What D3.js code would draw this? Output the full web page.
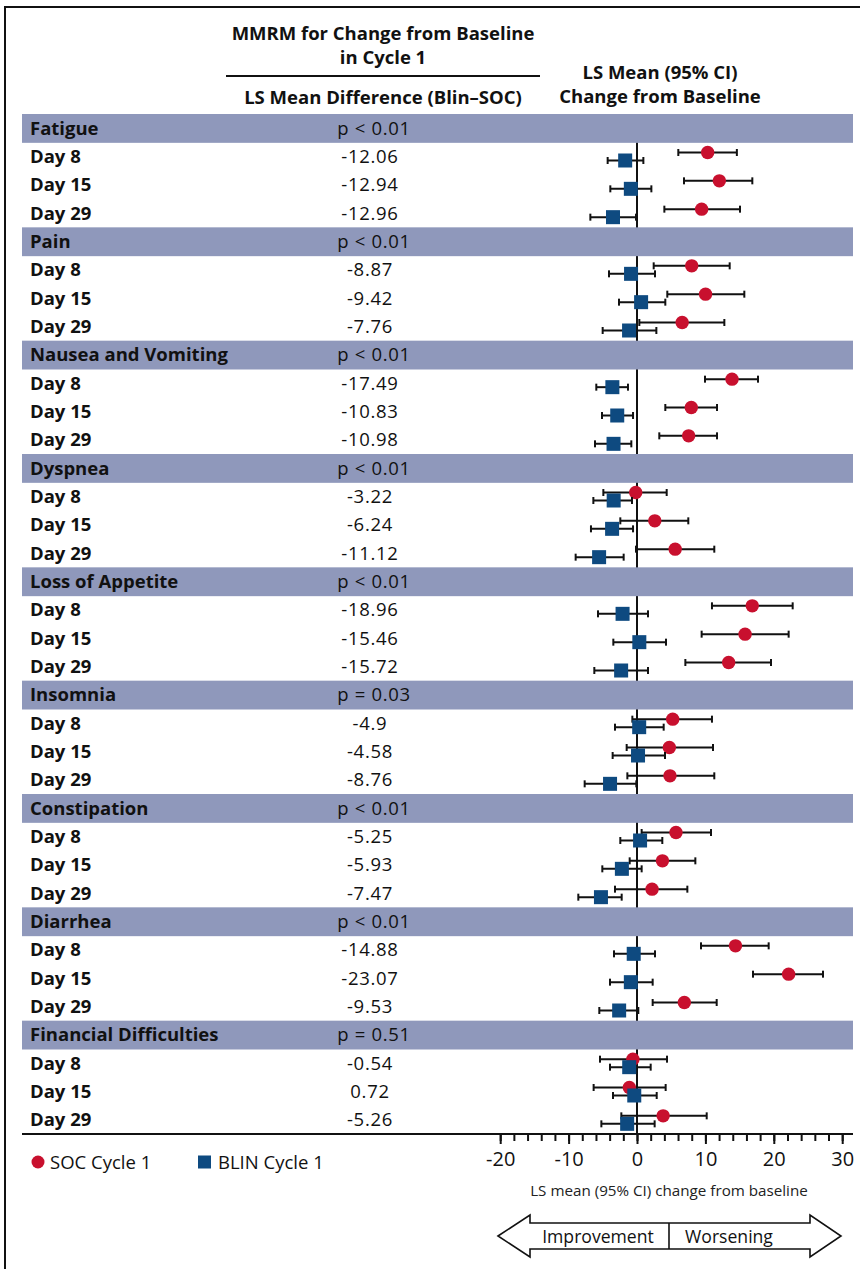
<!DOCTYPE html>
<html>
<head>
<meta charset="utf-8">
<script src="https://cdn.jsdelivr.net/npm/d3@7"></script>
<style>
  html, body { margin: 0; padding: 0; background: #fff; }
  svg { display: block; font-family: "Open Sans", "Lato", sans-serif; }
</style>
</head>
<body>
<svg id="chart" width="860" height="1269"></svg>
<script>
// Domains and labels
const domains = ["Fatigue", "Pain", "Nausea and Vomiting", "Dyspnea", "Loss of Appetite",
  "Insomnia", "Constipation", "Diarrhea", "Financial Difficulties"];
const pValues = ["p < 0.01", "p < 0.01", "p < 0.01", "p < 0.01", "p < 0.01",
  "p = 0.03", "p < 0.01", "p < 0.01", "p = 0.51"];
const visits = ["Day 8", "Day 15", "Day 29"];

// LS mean difference (Blin–SOC), per domain and visit
const diffLabels = [
  ["-12.06", "-12.94", "-12.96"],
  ["-8.87", "-9.42", "-7.76"],
  ["-17.49", "-10.83", "-10.98"],
  ["-3.22", "-6.24", "-11.12"],
  ["-18.96", "-15.46", "-15.72"],
  ["-4.9", "-4.58", "-8.76"],
  ["-5.25", "-5.93", "-7.47"],
  ["-14.88", "-23.07", "-9.53"],
  ["-0.54", "0.72", "-5.26"]
];

// SOC Cycle 1: LS mean change and 95% CI
const socMean = [
  [10.33, 12.04, 9.45], [8.0, 10.02, 6.6], [13.89, 7.94, 7.55],
  [-0.19, 2.6, 5.58], [16.85, 15.8, 13.4], [5.22, 4.73, 4.82],
  [5.7, 3.72, 2.2], [14.4, 22.17, 6.92], [-0.6, -1.12, 3.82]
];
const socLow = [
  [6.04, 6.87, 4.0], [2.44, 4.43, 0.34], [9.94, 4.14, 3.26],
  [-4.92, -2.44, -0.15], [10.96, 9.45, 7.07], [-0.68, -1.51, -1.41],
  [0.68, -1.07, -3.22], [9.36, 16.96, 2.29], [-5.41, -6.34, -2.29]
];
const socHigh = [
  [14.6, 16.86, 15.06], [13.55, 15.69, 12.77], [17.69, 11.7, 11.7],
  [4.34, 7.5, 11.3], [22.76, 22.17, 19.59], [10.96, 11.11, 11.3],
  [10.82, 8.53, 7.36], [19.25, 27.19, 11.65], [4.39, 4.19, 10.19]
];

// BLIN Cycle 1: LS mean change and 95% CI
const blinMean = [
  [-1.73, -0.9, -3.51], [-0.87, 0.6, -1.16], [-3.6, -2.89, -3.43],
  [-3.41, -3.64, -5.54], [-2.11, 0.34, -2.32], [0.32, 0.15, -3.94],
  [0.45, -2.21, -5.27], [-0.48, -0.9, -2.61], [-1.14, -0.4, -1.44]
];
const blinLow = [
  [-4.29, -3.9, -6.82], [-4.09, -2.63, -5.02], [-5.95, -5.12, -6.14],
  [-6.38, -6.73, -8.97], [-5.7, -3.46, -6.24], [-3.22, -3.56, -7.65],
  [-2.44, -5.07, -8.58], [-3.36, -3.95, -5.51], [-3.95, -3.51, -5.21]
];
const blinHigh = [
  [0.93, 2.1, -0.15], [2.63, 4.14, 2.83], [-1.32, -0.58, -0.83],
  [-0.73, -0.58, -1.95], [1.61, 4.24, 1.61], [3.9, 4.09, -0.1],
  [3.7, 0.68, -2.24], [2.63, 2.29, 0.19], [2.0, 2.88, 2.58]
];

const axisTicks = [-20, -10, 0, 10, 20, 30];
const seriesNames = ["SOC Cycle 1", "BLIN Cycle 1"];

const colors = { soc: "#c8102e", blin: "#0e4a80", band: "#8f98bb", ink: "#111" };

const svg = d3.select("#chart");

// Outer frame
svg.append("path")
  .attr("d", "M5,1269 V7 H860")
  .attr("fill", "none").attr("stroke", "#111").attr("stroke-width", 2);

// Row layout: each domain has a header row plus three visit rows
const rows = [];
domains.forEach((d, i) => {
  rows.push({ type: "head", g: i });
  visits.forEach((v, j) => rows.push({ type: "visit", g: i, j }));
});
const y = d3.scaleBand().domain(d3.range(rows.length)).range([114, 1134]).paddingInner(0);
const x = d3.scaleLinear().domain([-20, 30]).range([500.2, 842.2]);
const rowH = y.bandwidth();

// Zero reference line
svg.append("line")
  .attr("x1", x(0)).attr("x2", x(0))
  .attr("y1", y(0) + rowH).attr("y2", 1134)
  .attr("stroke", colors.ink).attr("stroke-width", 2);

// Domain header bands
svg.selectAll("rect.band").data(rows.map((r, k) => ({ ...r, k })).filter(r => r.type === "head"))
  .join("rect").attr("class", "band")
  .attr("x", 22).attr("width", 831)
  .attr("y", d => y(d.k)).attr("height", rowH + 0.5)
  .attr("fill", colors.band);

// Row texts
const textG = svg.append("g").attr("fill", "#111");
rows.forEach((r, k) => {
  const cy = y(k) + rowH / 2 + 6.5;
  const label = textG.append("text").attr("x", 30).attr("y", cy).attr("font-weight", 700)
    .style("font-size", "18.5px");
  const value = textG.append("text").attr("y", cy).attr("text-anchor", "middle")
    .style("font-size", "18.5px").style("letter-spacing", "0.7px");
  if (r.type === "head") {
    label.text(domains[r.g]);
    value.attr("x", 374).text(pValues[r.g]);
  } else {
    label.text(visits[r.j]);
    value.attr("x", 370).text(diffLabels[r.g][r.j]);
  }
});

// Point estimates with 95% CI
const visitRows = rows.map((r, k) => ({ ...r, k })).filter(r => r.type === "visit");
const cap = 3.5;
function errorBars(g, lo, hi, dy) {
  const sel = g.selectAll("g").data(visitRows).join("g")
    .attr("transform", d => `translate(0,${y(d.k) + rowH / 2 + dy})`)
    .attr("stroke", colors.ink).attr("stroke-width", 2);
  sel.append("line").attr("x1", d => x(lo[d.g][d.j])).attr("x2", d => x(hi[d.g][d.j]));
  sel.append("line").attr("x1", d => x(lo[d.g][d.j])).attr("x2", d => x(lo[d.g][d.j])).attr("y1", -cap).attr("y2", cap);
  sel.append("line").attr("x1", d => x(hi[d.g][d.j])).attr("x2", d => x(hi[d.g][d.j])).attr("y1", -cap).attr("y2", cap);
}
errorBars(svg.append("g"), socLow, socHigh, -4);
svg.append("g").selectAll("circle").data(visitRows).join("circle")
  .attr("cx", d => x(socMean[d.g][d.j]))
  .attr("cy", d => y(d.k) + rowH / 2 - 4)
  .attr("r", 6.7).attr("fill", colors.soc);
errorBars(svg.append("g"), blinLow, blinHigh, 4);
const sq = 14;
svg.append("g").selectAll("rect").data(visitRows).join("rect")
  .attr("x", d => x(blinMean[d.g][d.j]) - sq / 2)
  .attr("y", d => y(d.k) + rowH / 2 + 4 - sq / 2)
  .attr("width", sq).attr("height", sq).attr("fill", colors.blin);

// Baseline rule across the table and the x axis
svg.append("line").attr("x1", 22).attr("x2", 853).attr("y1", 1134).attr("y2", 1134)
  .attr("stroke", colors.ink).attr("stroke-width", 2);
const axisG = svg.append("g").attr("transform", "translate(0,1134)");
axisG.call(d3.axisBottom(x).tickValues(d3.range(-20, 31, 2)).tickSize(7).tickFormat(""))
  .call(g => g.select(".domain").remove())
  .call(g => g.selectAll("line").attr("stroke", colors.ink).attr("stroke-width", 2));
axisG.append("g")
  .call(d3.axisBottom(x).tickValues(axisTicks).tickSize(10).tickPadding(8).tickFormat(d3.format("d")))
  .call(g => g.select(".domain").remove())
  .call(g => g.selectAll("line").attr("stroke", colors.ink).attr("stroke-width", 2))
  .call(g => g.selectAll("text").attr("fill", "#111").style("font-size", "20px")
    .style("font-family", "'Open Sans', sans-serif").text(d => d < 0 ? "-" + Math.abs(d) : d));

svg.append("text").attr("x", 669).attr("y", 1196).attr("text-anchor", "middle")
  .style("font-size", "15.2px").style("font-family", "'Liberation Sans Narrow', 'Open Sans', sans-serif")
  .attr("fill", "#222").text("LS mean (95% CI) change from baseline");

// Column headers
const hdr = svg.append("g").attr("fill", "#111").attr("font-weight", 700).style("font-size", "18.5px")
  .attr("text-anchor", "middle");
hdr.append("text").attr("x", 383).attr("y", 40).text("MMRM for Change from Baseline");
hdr.append("text").attr("x", 383).attr("y", 64).text("in Cycle 1");
hdr.append("text").attr("x", 383).attr("y", 104).text("LS Mean Difference (Blin–SOC)");
hdr.append("text").attr("x", 660).attr("y", 79).text("LS Mean (95% CI)");
hdr.append("text").attr("x", 660).attr("y", 103).text("Change from Baseline");
svg.append("line").attr("x1", 226).attr("x2", 540).attr("y1", 76).attr("y2", 76)
  .attr("stroke", colors.ink).attr("stroke-width", 2);

// Legend
const leg = svg.append("g").style("font-size", "18.5px").attr("fill", "#111");
leg.append("circle").attr("cx", 38).attr("cy", 1162).attr("r", 6.5).attr("fill", colors.soc);
leg.append("text").attr("x", 50).attr("y", 1168.5).text(seriesNames[0]);
leg.append("rect").attr("x", 198).attr("y", 1155.5).attr("width", 13).attr("height", 13).attr("fill", colors.blin);
leg.append("text").attr("x", 218).attr("y", 1168.5).text(seriesNames[1]);

// Direction arrow
const arrow = svg.append("g").attr("fill", "none").attr("stroke", colors.ink).attr("stroke-width", 1.6);
arrow.append("path").attr("d",
  "M498,1236 L530,1215 L530,1223 L810,1223 L810,1215 L841,1236 L810,1257 L810,1249 L530,1249 L530,1257 Z")
  .attr("fill", "#fff");
arrow.append("line").attr("x1", 669).attr("x2", 669).attr("y1", 1223).attr("y2", 1249);
svg.append("text").attr("x", 598).attr("y", 1242.5).attr("text-anchor", "middle").style("font-size", "17.6px")
  .attr("fill", "#111").text("Improvement");
svg.append("text").attr("x", 729).attr("y", 1242.5).attr("text-anchor", "middle").style("font-size", "17.6px")
  .attr("fill", "#111").text("Worsening");
</script>
</body>
</html>
